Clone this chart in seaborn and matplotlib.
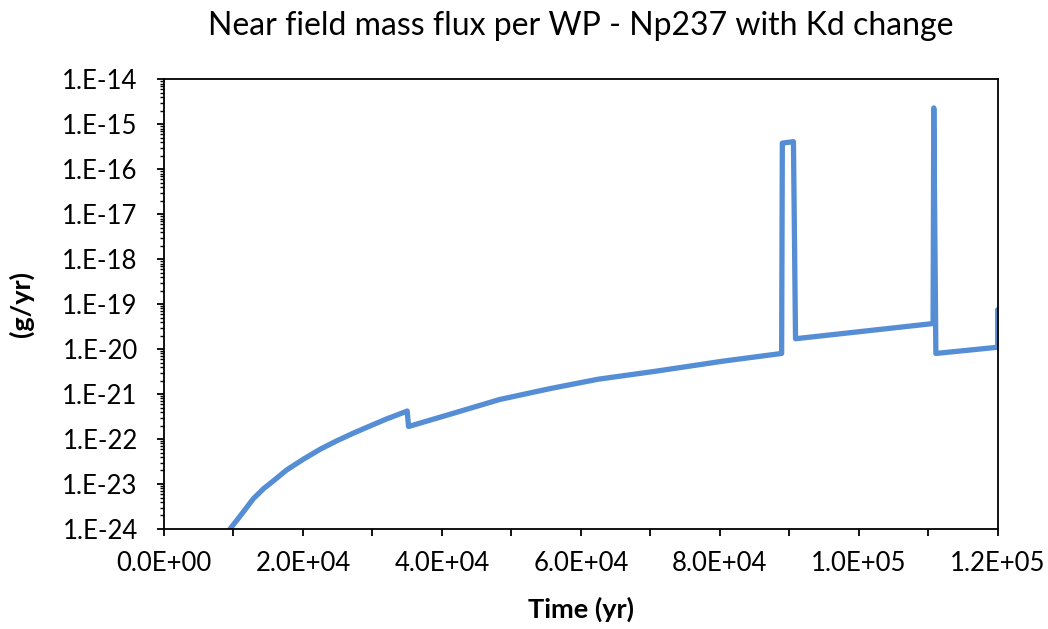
import numpy as np
import pandas as pd
import matplotlib
matplotlib.use("Agg")
import matplotlib.pyplot as plt
import matplotlib.ticker as mticker
import seaborn as sns

# Data
time_yr = [9000, 9500, 11180, 12850, 14300, 15730, 17650, 20040, 22450, 24850, 27240, 29640, 32040, 34680, 35000,
           35200, 41150, 48350, 55540, 62490, 70890, 80480, 88900,
           89000, 90600, 90900, 110700,
           110800, 111100, 120000, 120000]
flux_g_per_yr = [7e-25, 1.0e-24, 2.15e-24, 4.7e-24, 7.8e-24, 1.17e-23, 2.05e-23, 3.55e-23, 5.9e-23, 9.1e-23, 1.35e-22,
                 1.95e-22, 2.8e-22, 4.0e-22, 4.2e-22,
                 1.9e-22, 3.55e-22, 7.6e-22, 1.32e-21, 2.14e-21, 3.24e-21, 5.4e-21, 8.0e-21,
                 3.8e-16, 4.1e-16, 1.7e-20, 3.7e-20,
                 2.3e-15, 8.0e-21, 1.1e-20, 7.5e-20]

title = "Near field mass flux per WP - Np237 with Kd change"
xlabel = "Time (yr)"
ylabel = "(g/yr)"

df = pd.DataFrame({"time": time_yr, "flux": flux_g_per_yr})

sns.set_style("white")
plt.rcParams['font.family'] = ['Lato', 'DejaVu Sans']

fig = plt.figure(figsize=(10.48, 6.29), dpi=100)
ax = fig.add_axes([0.1565, 0.159, 0.7955, 0.715])

sns.lineplot(data=df, x="time", y="flux", sort=False, estimator=None, ax=ax,
             color="#558ed5", linewidth=3.8, solid_capstyle="round", solid_joinstyle="round")

ax.set_yscale("log")
ax.set_ylim(1e-24, 1e-14)
ax.set_xlim(0, 1.2e5)

ax.yaxis.set_major_locator(mticker.LogLocator(base=10, numticks=20))
ax.yaxis.set_minor_locator(mticker.LogLocator(base=10, subs=np.arange(2, 10), numticks=20))
ax.yaxis.set_minor_formatter(mticker.NullFormatter())
ax.yaxis.set_major_formatter(mticker.FuncFormatter(lambda v, p: "1.E%+03d" % int(round(np.log10(v)))))

ax.xaxis.set_major_locator(mticker.MultipleLocator(2e4))
ax.xaxis.set_minor_locator(mticker.MultipleLocator(1e4))
def xfmt(v, p):
    if v == 0:
        return "0.0E+00"
    e = int(np.floor(np.log10(abs(v))))
    m = v / 10**e
    return "%.1fE%+03d" % (m, e)
ax.xaxis.set_major_formatter(mticker.FuncFormatter(xfmt))

for s in ax.spines.values():
    s.set_color("black")
    s.set_linewidth(1.3)

ax.tick_params(axis="both", which="major", direction="out", length=5, width=1.3,
               color="black", labelsize=18.5, labelcolor="black", left=True, bottom=True)
ax.tick_params(axis="x", which="minor", direction="out", length=5, width=1.3, color="black", bottom=True)
ax.tick_params(axis="y", which="minor", direction="out", length=3, width=1.0, color="black", left=True)
ax.tick_params(axis="x", pad=11)
ax.tick_params(axis="y", pad=14)

ax.set_title(title, fontsize=23, color="black", pad=32)
ax.set_xlabel(xlabel, fontsize=19.5, fontweight="bold", color="black", labelpad=15)
ax.set_ylabel(ylabel, fontsize=19.5, fontweight="bold", color="black", labelpad=20)

fig.savefig("out.png", dpi=100)
